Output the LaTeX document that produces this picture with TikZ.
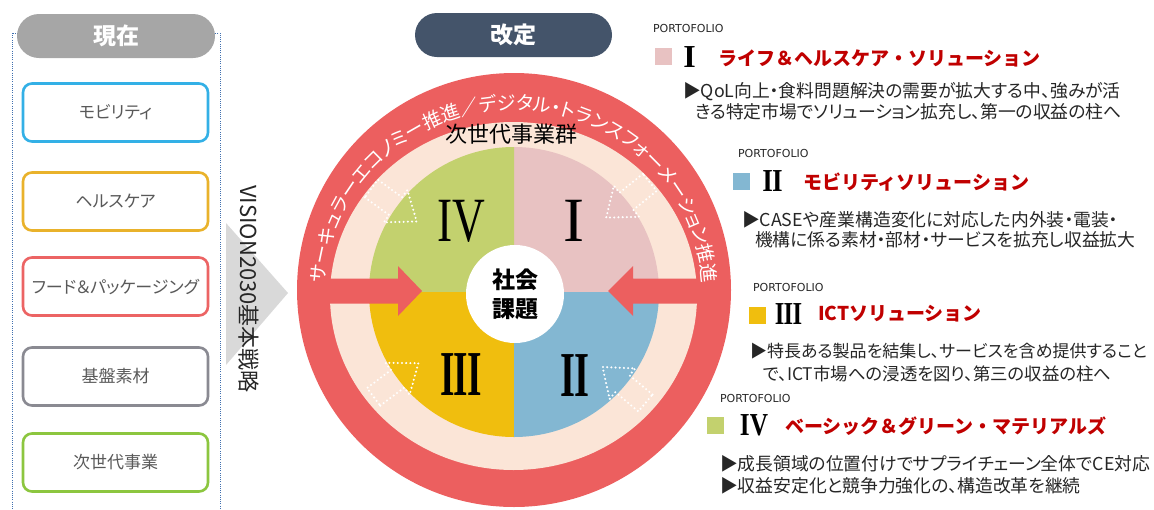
\documentclass[tikz,border=0pt]{standalone}
\usepackage{fontspec}
\usepackage{graphicx}
\usetikzlibrary{decorations.text}
\newfontfamily\jp[RawFeature=+palt]{Noto Sans CJK JP}
\newfontfamily\jpf{Noto Sans CJK JP}
\newfontfamily\rom{Liberation Serif}
\newfontfamily\lat{DejaVu Sans}
\newcommand\setfs[1]{\fontsize{#1}{#1}\selectfont}
\definecolor{cred}{HTML}{EC5F5F}
\definecolor{cpeach}{HTML}{FBE5D7}
\definecolor{qpink}{HTML}{E8C2C2}
\definecolor{qblue}{HTML}{83B7D2}
\definecolor{qyellow}{HTML}{F0BE0E}
\definecolor{qgreen}{HTML}{C3D16E}
\definecolor{titlered}{HTML}{C00000}
\definecolor{cslate}{HTML}{44546A}
\definecolor{cpillgray}{HTML}{A6A6A6}
\definecolor{bblue}{HTML}{33B0E6}
\definecolor{borange}{HTML}{E9B22B}
\definecolor{bred}{HTML}{EC6464}
\definecolor{bgray}{HTML}{8A8A92}
\definecolor{bgreen}{HTML}{8CC63F}
\definecolor{labgray}{HTML}{595959}
\definecolor{bodytext}{HTML}{262626}
\definecolor{cltgray}{HTML}{D9D9D9}
\definecolor{cdot}{HTML}{4070B0}
\begin{document}
\begin{tikzpicture}[x=1pt,y=1pt,
  every node/.style={inner sep=0pt, outer sep=0pt},
  pill/.style={fill=#1, rounded corners=22pt, text=white, font=\jp\bfseries\setfs{23}},
  catbox/.style={draw=#1, line width=2.6pt, rounded corners=9pt, fill=white,
     minimum width=185pt, minimum height=58pt, text=labgray, font=\jp\setfs{17}},
  dotarrow/.style={draw=white, line width=2.3pt, dash pattern=on 0pt off 4.2pt, line cap=round},
  body/.style={anchor=west, font=\jp\setfs{17.8}, text=bodytext},
  ttl/.style={anchor=west, font=\jpf\bfseries\setfs{19}, text=titlered},
  port/.style={anchor=west, font=\lat\setfs{11}, text=bodytext},
  bignum/.style={font=\rom\setfs{63}, text=black},
  smallnum/.style={font=\rom\bfseries\setfs{32}, text=black}
]
\useasboundingbox (0,0) rectangle (1154,-509);

% ---------- left panel ----------
\draw[cdot, line width=1pt, dash pattern=on 1pt off 1.2pt] (12,-33) rectangle (220,-520);
\node[pill=cpillgray, minimum width=198pt, minimum height=44pt] (now) at (116,-36) {現在};
\node[catbox=bblue]   (mob)  at (115.5,-112.5) {モビリティ};
\node[catbox=borange] (hc)   at (115.5,-201.5) {ヘルスケア};
\node[catbox=bred]    (food) at (115.5,-286.5) {フード＆パッケージング};
\node[catbox=bgray]   (base) at (115.5,-376.5) {基盤素材};
\node[catbox=bgreen]  (next) at (115.5,-462.5) {次世代事業};

\fill[cltgray] (226,-223) -- (288,-293) -- (226,-365) -- cycle;
\node[rotate=-90, font=\jp\setfs{22}, text=bodytext] (vis) at (249,-289) {VISION2030基本戦略};

% ---------- centre ----------
\node[pill=cslate, minimum width=197pt, minimum height=44pt] (rev) at (513.5,-35) {改定};

\fill[cred] (514,-290) circle[radius=217];
\fill[cpeach] (513.5,-296) ellipse[x radius=183.5, y radius=174];
\coordinate (Q) at (514,-292);
\fill[qpink]   (Q) -- ++(0:145)   arc[start angle=0,   end angle=90,  radius=145] -- cycle;
\fill[qgreen]  (Q) -- ++(90:145)  arc[start angle=90,  end angle=180, radius=145] -- cycle;
\fill[qyellow] (Q) -- ++(180:145) arc[start angle=180, end angle=270, radius=145] -- cycle;
\fill[qblue]   (Q) -- ++(270:145) arc[start angle=270, end angle=360, radius=145] -- cycle;

% red block arrows
\fill[cred] (318,-278.5) -- (398,-278.5) -- (398,-266) -- (422,-291) -- (398,-316) -- (398,-303.5) -- (318,-303.5) -- cycle;
\fill[cred] (710,-278.5) -- (633,-278.5) -- (633,-266) -- (608,-291) -- (633,-316) -- (633,-303.5) -- (710,-303.5) -- cycle;

% dotted arrows
\foreach \cx/\cy/\ang in {394/-205/-36, 628/-200/219, 396/-380/37, 624/-385/140}{
  \draw[dotarrow, shift={(\cx,\cy)}, rotate=\ang]
    (-28,-11) -- (2,-11) -- (2,-20) -- (28,0) -- (2,20) -- (2,11) -- (-28,11) -- cycle;
}

\node[circle, fill=white, minimum size=98pt, align=center, text=black,
      font=\jp\bfseries\fontsize{23}{29}\selectfont] (soc) at (515,-294) {社会\\課題};

% ring text
\path[decorate, decoration={text along path,
   text={|\jp\setfs{19}|サーキュラーエコノミー推進／デジタル・トランスフォーメーション推進},
   text align=center, text color=white}]
   (514,-293) ++(181:189pt and 183pt) arc[start angle=181, end angle=-1, x radius=189pt, y radius=183pt];

\node[font=\jp\setfs{22}, text=black] (grp) at (511,-134) {次世代事業群};

\node[bignum] (n4) at (461,-221) {\scalebox{0.72}[1]{IV}};
\node[bignum] (n1) at (574,-221) {I};
\node[bignum, font=\rom\bfseries\setfs{64}] (n3) at (461,-375) {\scalebox{0.58}[1]{I\kern-2pt I\kern-2pt I}};
\node[bignum, font=\rom\bfseries\setfs{64}] (n2) at (575,-376) {\scalebox{0.6}[1]{I\kern-2pt I}};

% ---------- right blocks ----------
% I
\node[port] (p1) at (653,-28) {PORTOFOLIO};
\fill[qpink] (655,-48) rectangle (672,-65);
\node[smallnum] (r1) at (689.5,-57.5) {I};
\node[ttl] (t1) at (718,-58) {ライフ＆ヘルスケア・ソリューション};
\node[body] (b1a) at (683,-91.5) {▶QoL向上・食料問題解決の需要が拡大する中、強みが活};
\node[body] (b1b) at (695,-111.5) {きる特定市場でソリューション拡充し、第一の収益の柱へ};
% II
\node[port] (p2) at (738,-153) {PORTOFOLIO};
\fill[qblue] (733,-173) rectangle (750,-190);
\node[smallnum] (r2) at (772.5,-181) {\scalebox{0.85}[1]{I\kern-1pt I}};
\node[ttl] (t2) at (803,-182.5) {モビリティソリューション};
\node[body] (b2a) at (742,-219.5) {▶CASEや産業構造変化に対応した内外装・電装・};
\node[body] (b2b) at (755,-240) {機構に係る素材・部材・サービスを拡充し収益拡大};
% III
\node[port] (p3) at (753,-287) {PORTOFOLIO};
\fill[qyellow] (749,-307) rectangle (766,-324);
\node[smallnum] (r3) at (788.5,-314) {\scalebox{0.77}[1]{I\kern-1pt I\kern-1pt I}};
\node[ttl] (t3) at (818,-314) {ICTソリューション};
\node[body, font=\jp\setfs{17}] (b3a) at (750,-351.5) {▶特長ある製品を結集し、サービスを含め提供すること};
\node[body, font=\jp\setfs{17.4}] (b3b) at (763,-373.5) {で、ICT市場への浸透を図り、第三の収益の柱へ};
% IV
\node[port] (p4) at (720,-398) {PORTOFOLIO};
\fill[qgreen] (707,-417) rectangle (724,-434);
\node[smallnum] (r4) at (754,-425) {\scalebox{0.79}[1]{IV}};
\node[ttl] (t4) at (785,-426.5) {ベーシック＆グリーン・マテリアルズ};
\node[body] (b4a) at (720,-463.5) {▶成長領域の位置付けでサプライチェーン全体でCE対応};
\node[body] (b4b) at (720,-486) {▶収益安定化と競争力強化の、構造改革を継続};
\end{tikzpicture}
\end{document}
